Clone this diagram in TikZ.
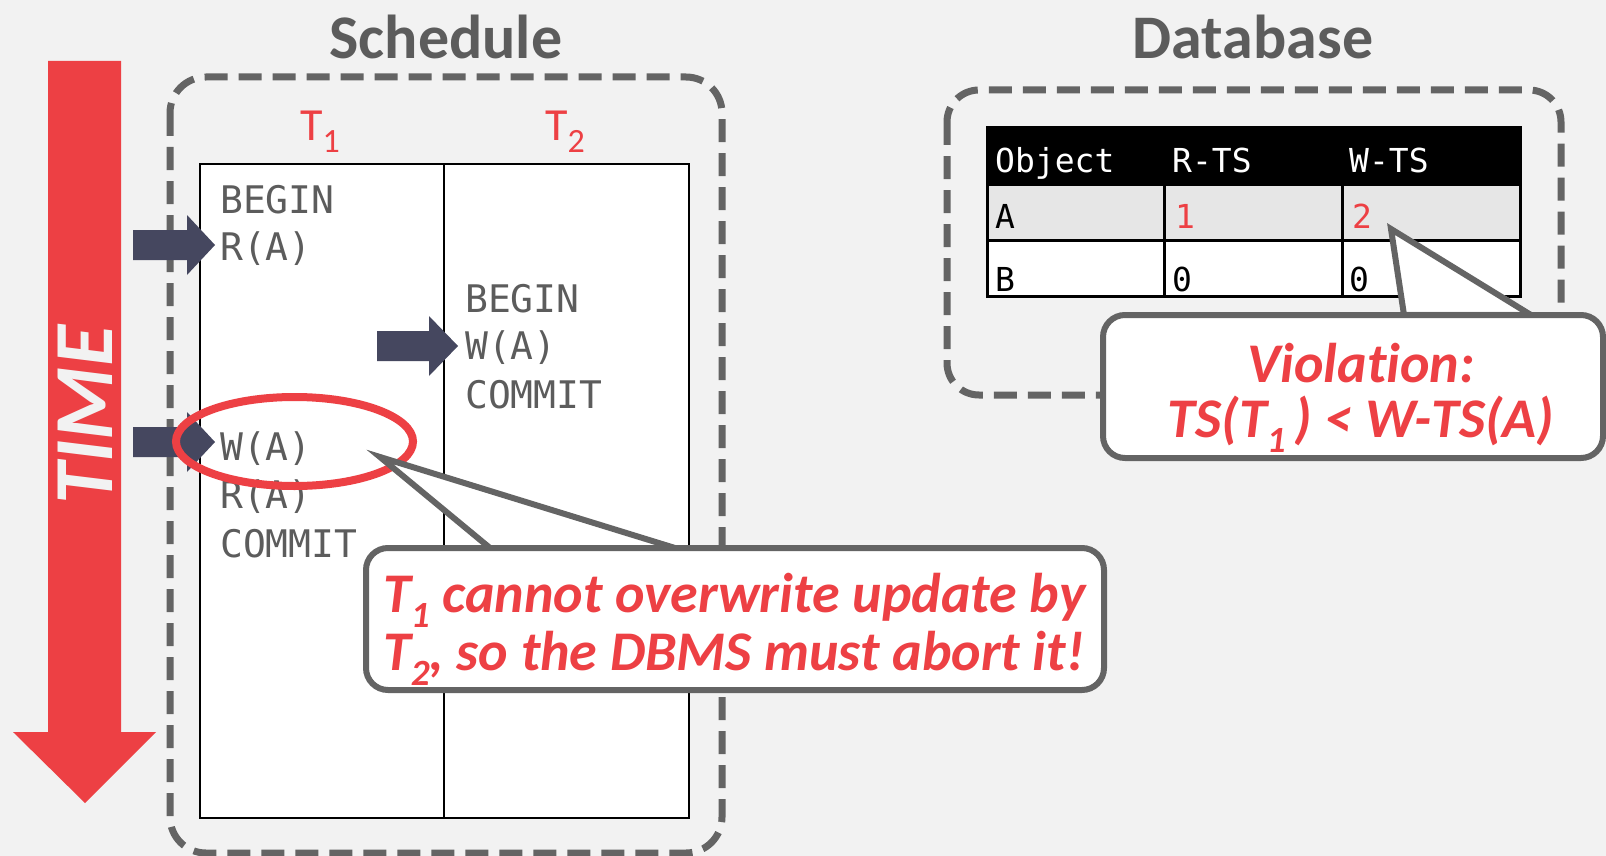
\documentclass[tikz,border=0pt]{standalone}
\usepackage{fontspec}
\setmainfont{Carlito}[Ligatures=CommonOff]
\newfontfamily\codefont{DejaVu Sans Mono}
\definecolor{bgcol}{HTML}{F2F2F2}
\definecolor{hotred}{HTML}{ED4044}
\definecolor{navy}{HTML}{45475F}
\definecolor{slate}{HTML}{646464}
\definecolor{ink}{HTML}{5C5C5C}
\definecolor{rowgray}{HTML}{E6E6E6}
\newcommand\setfs[1]{\fontsize{#1}{#1}\selectfont}
\newcommand\subs[2]{\raisebox{-0.28em}{\fontsize{#1}{#1}\selectfont #2}}

\begin{document}
\begin{tikzpicture}[x=1pt,y=-1pt,
  dashbox/.style={draw=slate,line width=7pt,dash pattern=on 23pt off 11pt},
  code/.style={font=\codefont\setfs{38},text=ink,anchor=base west,inner sep=0pt},
  hdr/.style={font=\codefont\setfs{33},text=white,anchor=base west,inner sep=0pt},
  cell/.style={font=\codefont\setfs{33},text=black,anchor=base west,inner sep=0pt},
  title/.style={font=\bfseries\setfs{62},text=ink,anchor=base,inner sep=0pt},
  txlabel/.style={font=\setfs{46},text=hotred,anchor=base,inner sep=0pt},
  callbox/.style={draw=slate,line width=6pt,fill=white,rounded corners=22pt},
  calltext/.style={font=\bfseries\itshape\setfs{56},text=hotred,inner sep=0pt},
  blockarrow/.style={fill=navy},
  pointerside/.style={draw=slate,line width=6pt,line join=miter}
]
\useasboundingbox (0,0) rectangle (1606,856);
\fill[bgcol] (0,0) rectangle (1606,856);

% time axis
\fill[hotred] (48,61) -- (121,61) -- (121,732) -- (156,732) -- (85,803)
  -- (13,732) -- (48,732) -- cycle;
\node[rotate=90,font=\bfseries\itshape\setfs{84},text=bgcol,inner sep=0pt]
  (time) at (85,415) {TIME};

% titles
\node[title] (sched) at (446,59) {Schedule};
\node[title] (dbase) at (1253,59) {Database};

% schedule frame and table
\draw[dashbox,rounded corners=36pt] (170,77) rectangle (722,853);
\draw[fill=white,line width=1.6pt] (200,164) rectangle (689,818);
\draw[line width=1.6pt] (444,164) -- (444,818);
\node[txlabel] (t1) at (320,140) {T\subs{34}{1}};
\node[txlabel] (t2) at (565,140) {T\subs{34}{2}};

% transaction operations
\node[code] (b1) at (220,213) {BEGIN};
\node[code] (r1) at (220,260) {R(A)};
\node[code] (b2) at (465,312) {BEGIN};
\node[code] (w2) at (465,359) {W(A)};
\node[code] (c2) at (465,408) {COMMIT};
\node[code] (w1) at (220,460) {W(A)};
\node[code] (r1b) at (220,508) {R(A)};
\node[code] (c1) at (220,557) {COMMIT};

% step markers
\fill[blockarrow] (133,230) -- (187,230) -- (187,215) -- (215,245) -- (187,275)
  -- (187,260) -- (133,260) -- cycle;
\fill[blockarrow] (377,331) -- (429,331) -- (429,316) -- (458,346) -- (429,376)
  -- (429,361) -- (377,361) -- cycle;
\fill[blockarrow] (133,427) -- (187,427) -- (187,412) -- (215,442) -- (187,472)
  -- (187,457) -- (133,457) -- cycle;

% highlighted write
\draw[hotred,line width=8pt] (294.5,441.5) ellipse [x radius=118.5,y radius=44.5];

% database frame and timestamp table
\draw[dashbox,rounded corners=32pt] (947,90) rectangle (1561,395);
\fill[black] (987,128) rectangle (1520,186);
\fill[rowgray] (987,186) rectangle (1520,240);
\fill[white] (987,240) rectangle (1520,296);
\draw[line width=3pt] (987,128) rectangle (1520,296);
\draw[line width=3pt] (987,240) -- (1520,240);
\draw[line width=3pt] (1164,186) -- (1164,296);
\draw[line width=3pt] (1342,186) -- (1342,296);
\node[hdr] (h1) at (995,172) {Object};
\node[hdr] (h2) at (1172,172) {R-TS};
\node[hdr] (h3) at (1349,172) {W-TS};
\node[cell] (a0) at (995,228) {A};
\node[cell,text=hotred] (a1) at (1175,228) {1};
\node[cell,text=hotred] (a2) at (1352,228) {2};
\node[cell] (b0) at (995,291) {B};
\node[cell] (b1v) at (1172,291) {0};
\node[cell] (b2v) at (1349,291) {0};

% abort callout
\coordinate (tipA) at (380,457);
\coordinate (baseAl) at (490,548);
\coordinate (baseAr) at (675,548);
\draw[callbox] (366,548) rectangle (1104,690);
\fill[white] ([yshift=4pt]baseAl) -- (tipA) -- ([yshift=4pt]baseAr) -- cycle;
\draw[pointerside] (baseAl) -- (tipA) -- (baseAr);
\node[calltext,anchor=base west] (ab1) at (383,612)
  {T\subs{37}{1} cannot overwrite update by};
\node[calltext,anchor=base west] (ab2) at (383,670)
  {T\subs{37}{2}, so the DBMS must abort it!};

% violation callout
\coordinate (tipV) at (1391,229);
\coordinate (baseVl) at (1404,315);
\coordinate (baseVr) at (1531,315);
\draw[callbox] (1103,315) rectangle (1603,458);
\fill[white] ([yshift=4pt]baseVl) -- (tipV) -- ([yshift=4pt]baseVr) -- cycle;
\draw[pointerside] (baseVl) -- (tipV) -- (baseVr);
\node[calltext,anchor=base] (v1) at (1361,382) {Violation:};
\node[calltext,anchor=base] (v2) at (1361,437) {TS(T\subs{37}{1}\,) < W-TS(A)};
\end{tikzpicture}
\end{document}
